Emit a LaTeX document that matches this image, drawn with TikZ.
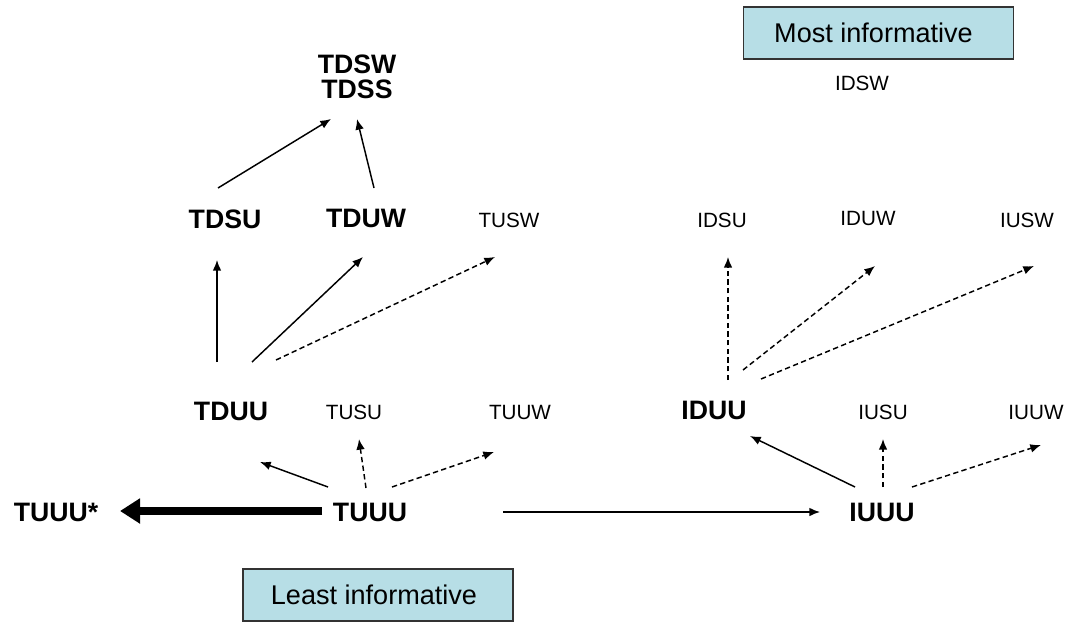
\documentclass[tikz,border=0pt]{standalone}
\usepackage{fontspec}
\setmainfont{Liberation Sans}
\usetikzlibrary{arrows.meta}
\definecolor{boxfill}{RGB}{183,222,230}
\tikzset{
  big/.style={font=\fontsize{20}{22}\selectfont\bfseries, inner sep=0pt},
  small/.style={font=\fontsize{15.5}{18}\selectfont, inner sep=0pt},
  infobox/.style={draw=black!80, line width=0.8pt, fill=boxfill, inner sep=0pt, font=\fontsize{20.3}{22}\selectfont},
  solidarrow/.style={line width=1.1pt, -{Latex[length=8pt,width=6.5pt]}},
  dasharrow/.style={line width=1.1pt, dash pattern=on 4pt off 2.5pt, -{Latex[length=8pt,width=6.5pt]}},
  thickarrow/.style={line width=6.5pt, -{Triangle[length=15pt,width=18pt]}}
}
\begin{document}
\begin{tikzpicture}[x=0.75pt,y=-0.75pt]
\useasboundingbox (0,0) rectangle (1066,624);
% boxes
\node[infobox, minimum width=203pt, minimum height=39pt] (most) at (878.5,33) {\hspace*{-7.5pt}Most informative};
\node[infobox, minimum width=202.5pt, minimum height=39pt] (least) at (378,595) {\hspace*{-6pt}Least informative};
% labels
\node[big, align=center] (tdsw) at (357,77) {TDSW\\[-3pt]TDSS};
\node[small] (idsw) at (862,83) {IDSW};
\node[big] (tdsu) at (225,219) {TDSU};
\node[big] (tduw) at (366,218) {TDUW};
\node[small] (tusw) at (509,220) {TUSW};
\node[small] (idsu) at (722,220) {IDSU};
\node[small] (iduw) at (868,218) {IDUW};
\node[small] (iusw) at (1027,220) {IUSW};
\node[big] (tduu) at (231,411) {TDUU};
\node[small] (tusu) at (354,412) {TUSU};
\node[small] (tuuw) at (520,412) {TUUW};
\node[big] (iduu) at (714,410) {IDUU};
\node[small] (iusu) at (883,412) {IUSU};
\node[small] (iuuw) at (1036,412) {IUUW};
\node[big] (tuuus) at (56,512) {TUUU*};
\node[big] (tuuu) at (370,512) {TUUU};
\node[big] (iuuu) at (882,512) {IUUU};
% connector end points
\coordinate (a1s) at (218,188); \coordinate (a1e) at (331,119);
\coordinate (a2s) at (374,188); \coordinate (a2e) at (357,119);
\coordinate (a3s) at (217,362); \coordinate (a3e) at (217,260);
\coordinate (a4s) at (252,362); \coordinate (a4e) at (363,257);
\coordinate (a5s) at (276,360); \coordinate (a5e) at (495,257);
\coordinate (a6s) at (328,487); \coordinate (a6e) at (260,462);
\coordinate (a7s) at (366,488); \coordinate (a7e) at (359,439);
\coordinate (a8s) at (392,487); \coordinate (a8e) at (494,452);
\coordinate (a9s) at (503,512); \coordinate (a9e) at (820,512);
\coordinate (b1s) at (855,487); \coordinate (b1e) at (750,436);
\coordinate (b2s) at (883,487); \coordinate (b2e) at (883,439);
\coordinate (b3s) at (912,487); \coordinate (b3e) at (1041,445);
\coordinate (c1s) at (728,380); \coordinate (c1e) at (728,257);
\coordinate (c2s) at (743,370); \coordinate (c2e) at (875,266);
\coordinate (c3s) at (761,379); \coordinate (c3e) at (1034,266);
\coordinate (ts) at (322,511); \coordinate (te) at (120,511);
% connectors
\draw[solidarrow] (a1s) -- (a1e);
\draw[solidarrow] (a2s) -- (a2e);
\draw[solidarrow] (a3s) -- (a3e);
\draw[solidarrow] (a4s) -- (a4e);
\draw[dasharrow] (a5s) -- (a5e);
\draw[solidarrow] (a6s) -- (a6e);
\draw[dasharrow] (a7s) -- (a7e);
\draw[dasharrow] (a8s) -- (a8e);
\draw[solidarrow] (a9s) -- (a9e);
\draw[solidarrow] (b1s) -- (b1e);
\draw[dasharrow] (b2s) -- (b2e);
\draw[dasharrow] (b3s) -- (b3e);
\draw[dasharrow] (c1s) -- (c1e);
\draw[dasharrow] (c2s) -- (c2e);
\draw[dasharrow] (c3s) -- (c3e);
\draw[thickarrow] (ts) -- (te);
\end{tikzpicture}
\end{document}
